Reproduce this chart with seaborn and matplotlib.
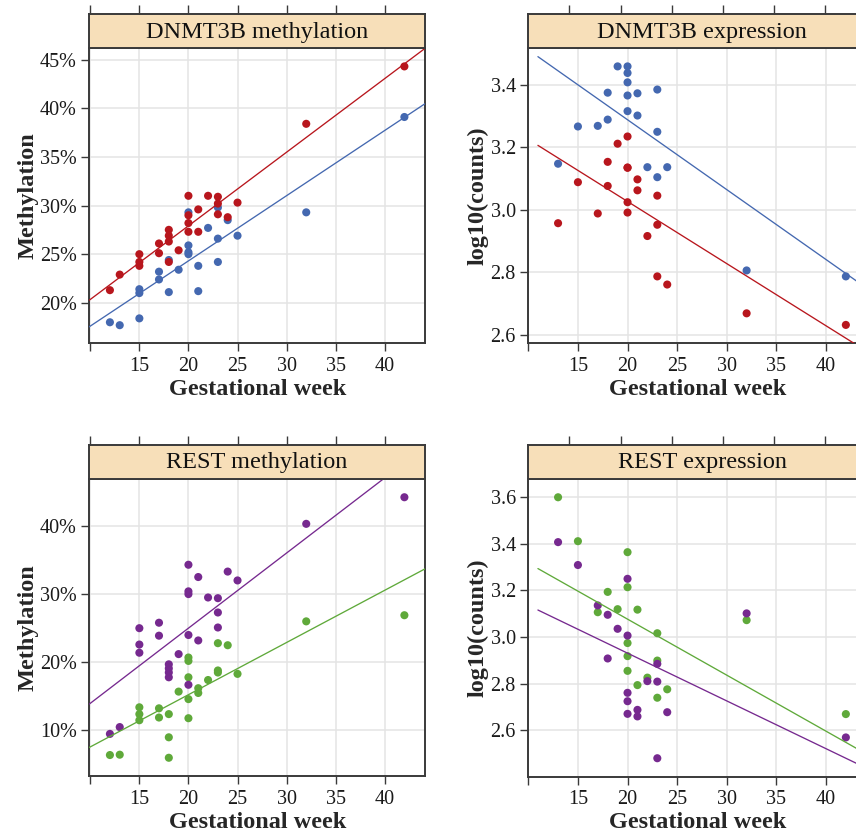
import numpy as np
import pandas as pd
import matplotlib
matplotlib.use("Agg")
import matplotlib.pyplot as plt
import seaborn as sns
from matplotlib.ticker import FuncFormatter

sns.set_style("white")
plt.rcParams["font.family"] = ["Liberation Serif", "DejaVu Serif"]

# ---------------- data ----------------
# DNMT3B methylation (%)
dm_red_week = [12, 13, 15, 15, 15, 17, 17, 18, 18, 18, 18, 19, 20, 20, 20, 20, 21, 21, 22, 23, 23, 23, 24, 25, 32, 42]
dm_red_val = [21.3, 22.9, 25.0, 24.2, 23.8, 26.1, 25.1, 27.5, 26.9, 26.3, 24.2, 25.4, 31.0, 29.0, 28.2, 27.3,
              29.6, 27.3, 31.0, 30.9, 30.2, 29.1, 28.8, 30.3, 38.4, 44.3]
dm_blue_week = [12, 13, 15, 15, 15, 17, 17, 18, 18, 19, 20, 20, 20, 20, 21, 21, 22, 23, 23, 23, 24, 25, 32, 42]
dm_blue_val = [18.0, 17.7, 18.4, 21.4, 21.0, 23.2, 22.4, 24.4, 21.1, 23.4, 29.3, 25.9, 25.2, 25.0, 23.8, 21.2,
               27.7, 29.8, 26.6, 24.2, 28.5, 26.9, 29.3, 39.1]

# DNMT3B expression (log10 counts)
de_blue_week = [13, 15, 17, 18, 18, 19, 20, 20, 20, 20, 20, 21, 21, 22, 23, 23, 23, 24, 32, 42]
de_blue_val = [3.147, 3.266, 3.268, 3.288, 3.374, 3.458, 3.458, 3.437, 3.407, 3.365, 3.315, 3.372, 3.301,
               3.136, 3.384, 3.249, 3.104, 3.136, 2.806, 2.787]
de_red_week = [13, 15, 17, 18, 18, 19, 20, 20, 20, 20, 20, 21, 21, 22, 23, 23, 23, 24, 32, 42]
de_red_val = [2.957, 3.088, 2.988, 3.076, 3.153, 3.211, 3.234, 3.135, 3.134, 3.024, 2.991, 3.097, 3.062,
              2.916, 3.045, 2.952, 2.787, 2.761, 2.669, 2.632]

# REST methylation (%)
rm_purple_week = [12, 13, 15, 15, 15, 17, 17, 18, 18, 18, 18, 19, 20, 20, 20, 20, 20, 21, 21, 22, 23, 23, 23,
                  24, 25, 32, 42]
rm_purple_val = [9.5, 10.5, 25.0, 22.6, 21.4, 25.8, 23.9, 19.7, 19.1, 18.5, 17.8, 21.2, 34.3, 30.4, 30.0, 24.0,
                 16.7, 32.5, 23.2, 29.5, 29.4, 27.3, 25.1, 33.3, 32.0, 40.3, 44.2]
rm_green_week = [12, 13, 15, 15, 15, 17, 17, 18, 18, 18, 19, 20, 20, 20, 20, 20, 21, 21, 22, 23, 23, 23, 24,
                 25, 32, 42]
rm_green_val = [6.4, 6.45, 13.4, 12.4, 11.5, 13.25, 11.9, 12.4, 9.0, 6.0, 15.7, 20.7, 20.2, 17.8, 14.6, 11.8,
                16.2, 15.5, 17.4, 22.8, 18.8, 18.5, 22.5, 18.3, 26.0, 26.9]

# REST expression (log10 counts)
re_green_week = [13, 15, 17, 18, 19, 20, 20, 20, 20, 20, 21, 21, 22, 23, 23, 23, 24, 32, 42]
re_green_val = [3.598, 3.410, 3.106, 3.193, 3.119, 3.363, 3.213, 2.974, 2.918, 2.855, 3.117, 2.794, 2.826,
                3.016, 2.899, 2.740, 2.776, 3.072, 2.670]
re_purple_week = [13, 15, 17, 18, 18, 19, 20, 20, 20, 20, 20, 21, 21, 22, 23, 23, 23, 24, 32, 42]
re_purple_val = [3.406, 3.308, 3.135, 3.095, 2.908, 3.035, 3.249, 3.006, 2.761, 2.725, 2.671, 2.688, 2.660,
                 2.811, 2.885, 2.809, 2.481, 2.678, 3.101, 2.570]

titles = ["DNMT3B methylation", "DNMT3B expression", "REST methylation", "REST expression"]
ylabels = ["Methylation", "log10(counts)", "Methylation", "log10(counts)"]
xlabel = "Gestational week"
x_ticks = [10, 15, 20, 25, 30, 35, 40]
x_ticklabels = ["", "15", "20", "25", "30", "35", "40"]
y_ticks = [[20, 25, 30, 35, 40, 45], [2.6, 2.8, 3.0, 3.2, 3.4],
           [10, 20, 30, 40], [2.6, 2.8, 3.0, 3.2, 3.4, 3.6]]

RED, BLUE, PURPLE, GREEN = "#B8161D", "#4468B0", "#76298F", "#5FA93A"


def frame(groups):
    parts = []
    for name, wk, vals in groups:
        parts.append(pd.DataFrame({"week": wk, "value": vals, "group": name}))
    return pd.concat(parts, ignore_index=True)


datasets = [
    frame([("blue", dm_blue_week, dm_blue_val), ("red", dm_red_week, dm_red_val)]),
    frame([("blue", de_blue_week, de_blue_val), ("red", de_red_week, de_red_val)]),
    frame([("green", rm_green_week, rm_green_val), ("purple", rm_purple_week, rm_purple_val)]),
    frame([("green", re_green_week, re_green_val), ("purple", re_purple_week, re_purple_val)]),
]
palettes = [{"blue": BLUE, "red": RED}, {"blue": BLUE, "red": RED},
            {"green": GREEN, "purple": PURPLE}, {"green": GREEN, "purple": PURPLE}]
pct = [True, False, True, False]

# ---------------- layout (pixels) ----------------
W, H = 856, 832
# (left, right, strip_top, data_top, bottom)
boxes = [(89.3, 425.0, 14.0, 48.3, 343.3),
         (528.3, 866.0, 14.0, 48.3, 343.0),
         (89.3, 425.0, 444.5, 479.0, 776.0),
         (528.3, 866.0, 444.5, 479.0, 776.5)]


def rect(l, t, r, b):
    return [l / W, 1 - b / H, (r - l) / W, (b - t) / H]


fig = plt.figure(figsize=(W / 100, H / 100), dpi=100)
FRAME = "#3a3a3a"
GRID = "#e4e4e4"
STRIP = "#F7DFB9"
TICKFS = 14.5
LABFS = 17.5


def pad_lim(v):
    v = np.asarray(v, dtype=float)
    lo, hi = v.min(), v.max()
    r = hi - lo
    return lo - 0.07 * r, hi + 0.07 * r


for i, df in enumerate(datasets):
    l, r, st, t, b = boxes[i]
    ax = fig.add_axes(rect(l, t, r, b))
    xlim = pad_lim(df["week"])
    ylim = pad_lim(df["value"])
    ax.set_xlim(*xlim)
    ax.set_ylim(*ylim)
    ax.set_axisbelow(True)
    ax.grid(True, color=GRID, lw=1.1)

    sns.scatterplot(data=df, x="week", y="value", hue="group", palette=palettes[i], s=34,
                    linewidth=0, legend=False, ax=ax, zorder=3)
    for g, c in palettes[i].items():
        sub = df[df["group"] == g]
        sns.regplot(data=sub, x="week", y="value", scatter=False, ci=None, truncate=False,
                    color=c, line_kws={"lw": 0.95, "zorder": 4}, ax=ax)
    ax.set_xlim(*xlim)
    ax.set_ylim(*ylim)

    ax.set_xticks(x_ticks)
    ax.set_xticklabels(x_ticklabels)
    ax.set_yticks(y_ticks[i])
    if pct[i]:
        ax.yaxis.set_major_formatter(FuncFormatter(lambda v, p: f"{v:.0f}%"))
    else:
        ax.yaxis.set_major_formatter(FuncFormatter(lambda v, p: f"{v:.1f}"))
    ax.tick_params(axis="both", which="both", direction="out", length=6, width=1.0, color=FRAME,
                   labelsize=TICKFS, pad=3, bottom=True, left=True, top=False, right=False,
                   labelcolor="#1a1a1a")
    ax.tick_params(axis="x", pad=4)
    for sp in ax.spines.values():
        sp.set_visible(True)
        sp.set_color(FRAME)
        sp.set_linewidth(1.4)
    ax.set_xlabel(xlabel, fontsize=LABFS, fontweight="bold", labelpad=2)
    ax.set_ylabel(ylabels[i], fontsize=LABFS, fontweight="bold", labelpad=1)

    # strip
    sax = fig.add_axes(rect(l, st, r, t))
    sax.set_facecolor(STRIP)
    sax.set_xlim(*xlim)
    sax.set_ylim(0, 1)
    sax.set_xticks(x_ticks if i in (0, 2) else x_ticks[1:])
    sax.set_yticks([])
    sax.tick_params(axis="x", direction="out", length=6.5, width=1.0, color=FRAME,
                    top=True, bottom=False, labeltop=False, labelbottom=False)
    for sp in sax.spines.values():
        sp.set_color(FRAME)
        sp.set_linewidth(1.4)
    sax.text(0.5 if i in (0, 2) else 0.515, 0.47, titles[i],
             transform=sax.transAxes, ha="center", va="center", fontsize=17.5, color="#111111")

fig.savefig("out.png", dpi=100)
